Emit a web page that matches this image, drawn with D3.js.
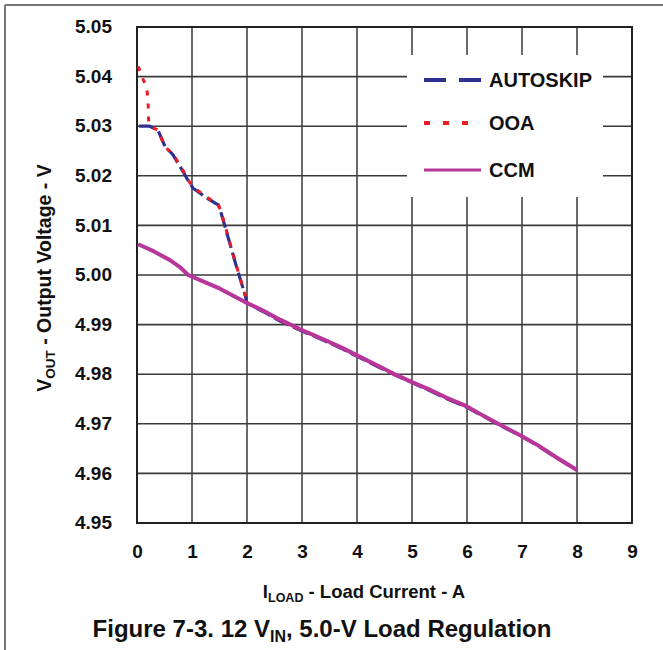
<!DOCTYPE html>
<html>
<head>
<meta charset="utf-8">
<script src="https://cdn.jsdelivr.net/npm/d3@7"></script>
<style>
  html, body { margin: 0; padding: 0; background: #fff; }
  svg { display: block; font-family: "Liberation Sans", Arial, sans-serif; font-weight: bold; }
</style>
</head>
<body>
<svg id="chart" width="663" height="650"></svg>
<script>
// ---------- DATA ----------
const xTicks = [0, 1, 2, 3, 4, 5, 6, 7, 8, 9];
const yTicks = [4.95, 4.96, 4.97, 4.98, 4.99, 5.00, 5.01, 5.02, 5.03, 5.04, 5.05];
const seriesNames = ["AUTOSKIP", "OOA", "CCM"];

const autoskipI = [0.04, 0.23, 0.38, 0.51, 0.65, 0.84, 0.92, 1.02, 1.27, 1.48, 1.54, 1.80, 1.97, 2.0, 2.3, 2.6, 3.0, 3.4, 3.75, 4.0, 4.4, 4.72, 5.0, 5.3, 5.6, 6.0, 6.3, 6.6, 7.0, 7.3, 7.6, 8.0];
const autoskipV = [5.0300, 5.0300, 5.0292, 5.0259, 5.0243, 5.0208, 5.0192, 5.0175, 5.0155, 5.0141, 5.0121, 5.0020, 4.9958, 4.9943, 4.9926, 4.9907, 4.9887, 4.9868, 4.9850, 4.9836, 4.9814, 4.9797, 4.9783, 4.9768, 4.9752, 4.9733, 4.9715, 4.9697, 4.9674, 4.9655, 4.9633, 4.9606];

const ooaI = [0.02, 0.10, 0.17, 0.20, 0.21, 0.24, 0.38, 0.51, 0.65, 0.84, 0.92, 1.02, 1.27, 1.48, 1.54, 1.80, 1.97, 2.0, 2.3, 2.6, 3.0, 3.4, 3.75, 4.0, 4.4, 4.72, 5.0, 5.3, 5.6, 6.0, 6.3, 6.6, 7.0, 7.3, 7.6, 8.0];
const ooaV = [5.0421, 5.0397, 5.0380, 5.0357, 5.0313, 5.0300, 5.0292, 5.0258, 5.0245, 5.0210, 5.0193, 5.0177, 5.0157, 5.0142, 5.0123, 5.0022, 4.9958, 4.9944, 4.9927, 4.9908, 4.9888, 4.9869, 4.9851, 4.9837, 4.9815, 4.9797, 4.9784, 4.9769, 4.9753, 4.9734, 4.9716, 4.9698, 4.9675, 4.9655, 4.9634, 4.9607];

const ccmI = [0.02, 0.3, 0.6, 0.78, 0.93, 1.2, 1.5, 1.99, 2.3, 2.6, 3.0, 3.4, 3.75, 4.0, 4.4, 4.72, 5.0, 5.3, 5.6, 6.0, 6.3, 6.6, 7.0, 7.3, 7.6, 8.0];
const ccmV = [5.0062, 5.0048, 5.0030, 5.0016, 5.0000, 4.9987, 4.9973, 4.9944, 4.9928, 4.9910, 4.9889, 4.9870, 4.9852, 4.9838, 4.9816, 4.9798, 4.9784, 4.9770, 4.9754, 4.9735, 4.9716, 4.9698, 4.9675, 4.9656, 4.9634, 4.9607];

// ---------- LAYOUT ----------
const svg = d3.select("#chart");
const plot = { left: 137, right: 632, top: 27, bottom: 523 };
const x = d3.scaleLinear().domain([0, 9]).range([plot.left, plot.right]);
const y = d3.scaleLinear().domain([4.95, 5.05]).range([plot.bottom, plot.top]);

// outer frame (top + left)
svg.append("line").attr("x1", 5).attr("x2", 663).attr("y1", 5).attr("y2", 5)
  .attr("stroke", "#777").attr("stroke-width", 2);
svg.append("line").attr("x1", 5).attr("x2", 5).attr("y1", 5).attr("y2", 650)
  .attr("stroke", "#777").attr("stroke-width", 2);

// gridlines
const g = svg.append("g");
g.selectAll(".vg").data(xTicks.slice(1, -1)).join("line")
  .attr("x1", d => x(d)).attr("x2", d => x(d))
  .attr("y1", plot.top).attr("y2", plot.bottom)
  .attr("stroke", "#6a6a6a").attr("stroke-width", 2);
g.selectAll(".hg").data(yTicks.slice(1, -1)).join("line")
  .attr("x1", plot.left).attr("x2", plot.right)
  .attr("y1", d => y(d)).attr("y2", d => y(d))
  .attr("stroke", "#3a3a3a").attr("stroke-width", 1.6);

// plot border
svg.append("rect").attr("x", plot.left).attr("y", plot.top)
  .attr("width", plot.right - plot.left).attr("height", plot.bottom - plot.top)
  .attr("fill", "none").attr("stroke", "#222").attr("stroke-width", 2);

// legend box (covers gridlines)
svg.append("rect").attr("x", 407).attr("y", 55).attr("width", 196).attr("height", 142)
  .attr("fill", "#fff");

// axes via d3 (labels only)
const xAxis = d3.axisBottom(x).tickValues(xTicks).tickFormat(d3.format("d")).tickSize(0).tickPadding(0);
const xa = svg.append("g").attr("transform", `translate(0, ${plot.bottom + 28})`).call(xAxis);
xa.select(".domain").remove();
xa.selectAll("text").attr("font-size", 19).attr("font-family", "Liberation Sans, Arial, sans-serif")
  .attr("font-weight", "bold").attr("fill", "#111").attr("dy", "0.35em").attr("y", 0);

const yAxis = d3.axisLeft(y).tickValues(yTicks).tickFormat(d3.format(".2f")).tickSize(0).tickPadding(0);
const ya = svg.append("g").attr("transform", `translate(112, 0)`).call(yAxis);
ya.select(".domain").remove();
ya.selectAll("text").attr("font-size", 19).attr("font-family", "Liberation Sans, Arial, sans-serif")
  .attr("font-weight", "bold").attr("fill", "#111").attr("x", 0).attr("dy", "0.3em");

// lines
const line = d3.line().x(d => x(d[0])).y(d => y(d[1]));
const zip = (a, b) => a.map((v, i) => [v, b[i]]);

const colors = { AUTOSKIP: "#2e3192", OOA: "#ed1c24", CCM: "#b8369a" };

svg.append("path").datum(zip(autoskipI, autoskipV)).attr("d", line)
  .attr("fill", "none").attr("stroke", colors.AUTOSKIP).attr("stroke-width", 3.2)
  .attr("stroke-dasharray", "16,5");
svg.append("path").datum(zip(ooaI, ooaV)).attr("d", line)
  .attr("fill", "none").attr("stroke", colors.OOA).attr("stroke-width", 3)
  .attr("stroke-dasharray", "5,8");
svg.append("path").datum(zip(ccmI, ccmV)).attr("d", line)
  .attr("fill", "none").attr("stroke", colors.CCM).attr("stroke-width", 4)
  .attr("stroke-linejoin", "round");

// legend
const legY = [80, 123, 170];
const dashes = ["22,13", "6,13", null];
const widths = [4, 4, 3];
seriesNames.forEach((name, i) => {
  const l = svg.append("line").attr("x1", 424).attr("x2", 481)
    .attr("y1", legY[i]).attr("y2", legY[i])
    .attr("stroke", colors[name]).attr("stroke-width", widths[i]);
  if (dashes[i]) l.attr("stroke-dasharray", dashes[i]);
  svg.append("text").attr("x", 489).attr("y", legY[i]).attr("dy", "0.35em")
    .attr("font-size", 20).attr("fill", "#111").text(name);
});

// axis titles
const xt = svg.append("text").attr("x", 364).attr("y", 598).attr("text-anchor", "middle")
  .attr("font-size", 18.5).attr("fill", "#111");
xt.append("tspan").text("I");
xt.append("tspan").attr("font-size", 12.5).attr("dy", 4).text("LOAD");
xt.append("tspan").attr("dy", -4).text(" - Load Current - A");

const yt = svg.append("text").attr("transform", "translate(51, 278) rotate(-90)")
  .attr("text-anchor", "middle").attr("font-size", 19.5).attr("fill", "#111");
yt.append("tspan").text("V");
yt.append("tspan").attr("font-size", 13.5).attr("dy", 4).text("OUT");
yt.append("tspan").attr("dy", -4).text(" - Output Voltage - V");

// figure title
const ft = svg.append("text").attr("x", 322).attr("y", 637).attr("text-anchor", "middle")
  .attr("font-size", 24).attr("fill", "#111");
ft.append("tspan").text("Figure 7-3. 12 V");
ft.append("tspan").attr("font-size", 16).attr("dy", 5).text("IN");
ft.append("tspan").attr("dy", -5).text(", 5.0-V Load Regulation");
</script>
</body>
</html>
